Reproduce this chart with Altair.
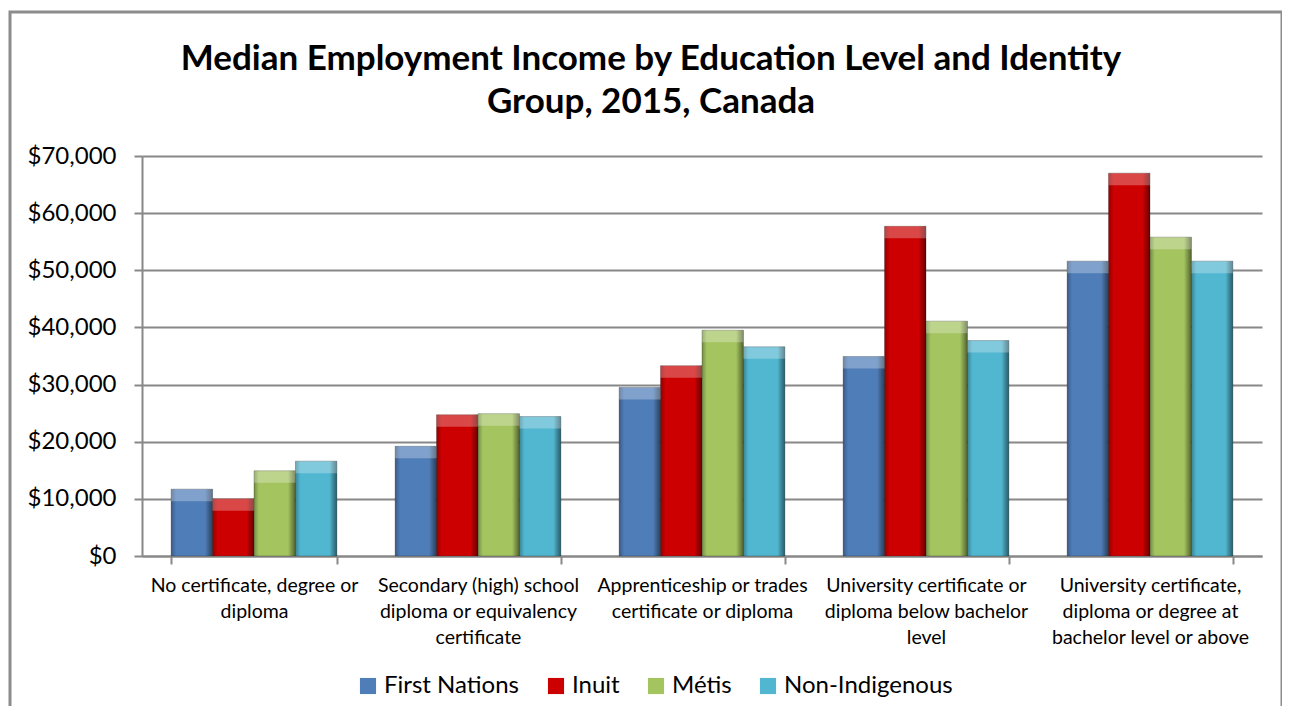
import altair as alt
import pandas as pd

title_lines = ["Median Employment Income by Education Level and Identity", "Group, 2015, Canada"]
categories = [
    "No certificate, degree or|diploma",
    "Secondary (high) school|diploma or equivalency|certificate",
    "Apprenticeship or trades|certificate or diploma",
    "University certificate or|diploma below bachelor|level",
    "University certificate,|diploma or degree at|bachelor level or above",
]
groups = ["First Nations", "Inuit", "Métis", "Non-Indigenous"]
first_nations = [11700, 19200, 29500, 34900, 51600]
inuit = [10000, 24700, 33300, 57700, 67000]
metis = [14900, 24900, 39500, 41100, 55800]
non_indigenous = [16600, 24400, 36600, 37700, 51600]
colors = ["#4F7DB8", "#CC0000", "#A4C460", "#51B6D0"]

rows = []
for g, vals in zip(groups, [first_nations, inuit, metis, non_indigenous]):
    for c, v in zip(categories, vals):
        rows.append({"category": c, "group": g, "value": v})
df = pd.DataFrame(rows)

FONT = "Lato"

x = alt.X("category:N", sort=categories, title=None,
          scale=alt.Scale(paddingInner=0.26, paddingOuter=0.13),
          axis=alt.Axis(labelExpr="split(datum.label, '|')", labelAngle=0,
                        labelFontSize=19.5, labelColor="#000", labelFont=FONT,
                        labelLineHeight=26, labelPadding=12, labelBaseline="top",
                        tickBand="extent", tickSize=8, tickColor="#888",
                        tickWidth=2, domainColor="#888", domainWidth=2,
                        labelLimit=300))
xo = alt.XOffset("group:N", sort=groups)
y = alt.Y("value:Q", title=None,
          scale=alt.Scale(domain=[0, 70000]),
          axis=alt.Axis(values=list(range(0, 70001, 10000)), format="$,.0f",
                        labelFontSize=24, labelColor="#000", labelFont=FONT,
                        labelPadding=18, tickSize=8, tickColor="#888", tickWidth=2,
                        domainColor="#888", domainWidth=2,
                        gridColor="#888", gridWidth=2))

base = alt.Chart(df)

bars = base.mark_bar(stroke="#2a2a2a", strokeWidth=0.6, strokeOpacity=0.5).encode(
    x=x, xOffset=xo, y=y,
    color=alt.Color("group:N", sort=groups,
                    scale=alt.Scale(domain=groups, range=colors),
                    legend=alt.Legend(title=None, orient="none", direction="horizontal",
                                      legendX=214, legendY=518,
                                      symbolType="square", symbolSize=260,
                                      symbolStrokeWidth=0,
                                      labelFontSize=24, labelFont=FONT,
                                      labelColor="#000", columnPadding=24,
                                      labelOffset=4, labelLimit=400)),
)

shade = base.mark_bar(
    fill=alt.Gradient(
        gradient="linear", x1=0, x2=1, y1=0, y2=0,
        stops=[
            alt.GradientStop(offset=0, color="rgba(0,0,0,0.28)"),
            alt.GradientStop(offset=0.12, color="rgba(0,0,0,0)"),
            alt.GradientStop(offset=0.82, color="rgba(0,0,0,0)"),
            alt.GradientStop(offset=1, color="rgba(0,0,0,0.5)"),
        ],
    )
).encode(x=x, xOffset=xo, y="value:Q")

top = base.mark_bar(y2Offset=12, color="white", opacity=0.28).encode(
    x=x, xOffset=xo, y="value:Q", y2="value:Q"
)

frame = alt.Chart(pd.DataFrame({"k": [0]})).mark_rect(
    fill=None, stroke="#8c8c8c", strokeWidth=3
).encode(x=alt.value(-132), x2=alt.value(1140), y=alt.value(-144), y2=alt.value(570))

title = alt.Chart(pd.DataFrame({"k": [0]})).mark_text(
    text=title_lines, font=FONT, fontSize=35, fontWeight="bold", color="#000",
    lineHeight=43, align="center", baseline="alphabetic"
).encode(x=alt.value(509), y=alt.value(-86))

chart = alt.layer(bars, shade, top, frame, title).properties(
    width=1120, height=400,
    autosize=alt.AutoSizeParams(type="none"),
    padding={"left": 134, "top": 148, "right": 20, "bottom": 150},
).configure_view(stroke=None).configure_axis(gridOpacity=1)

chart.save("out.html", embed_options={"renderer": "svg", "actions": False})
